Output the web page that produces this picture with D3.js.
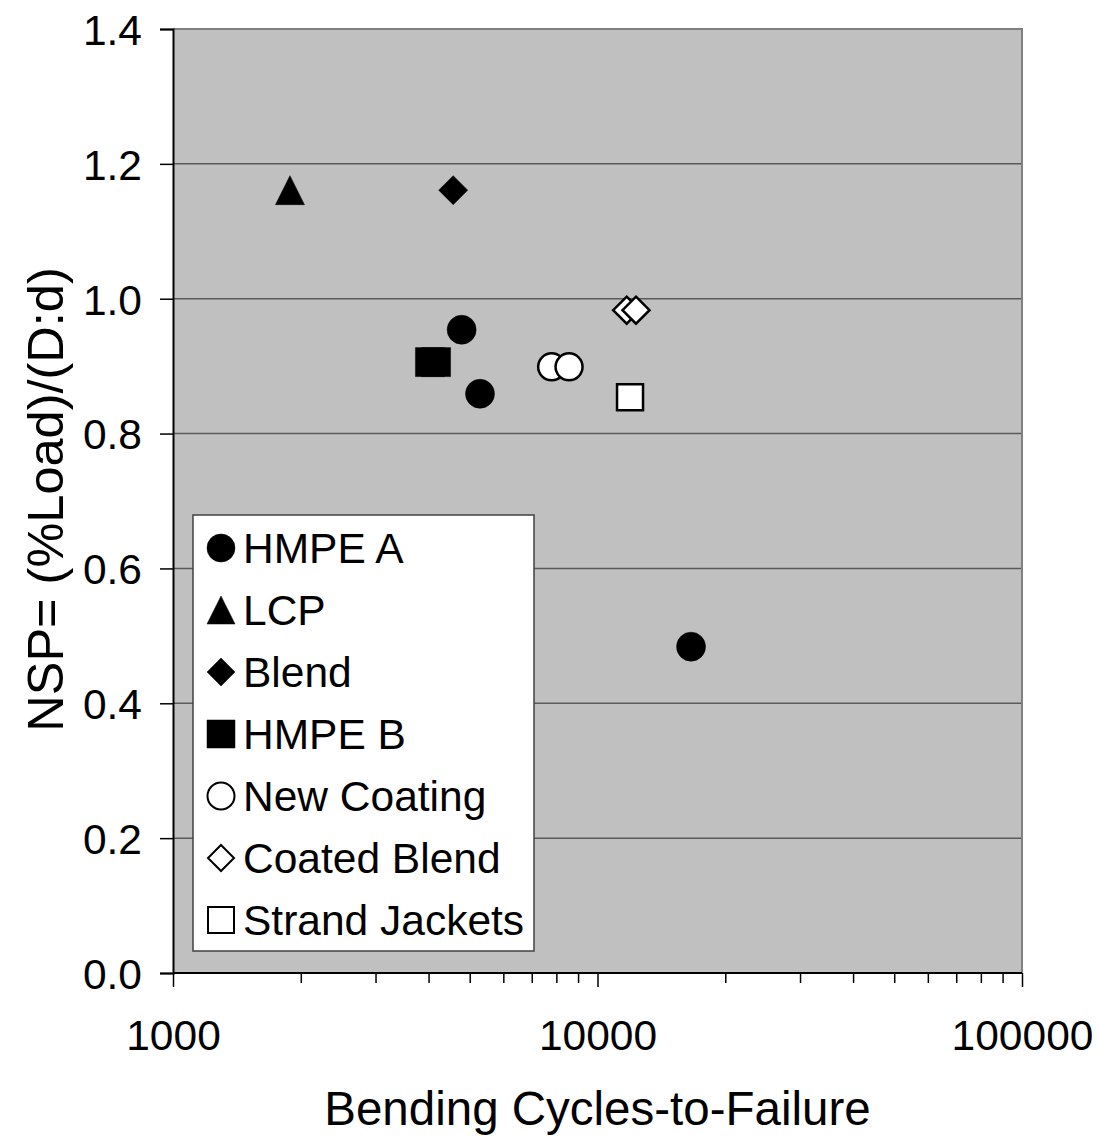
<!DOCTYPE html>
<html><head><meta charset="utf-8">
<script src="https://cdn.jsdelivr.net/npm/d3@7"></script>
<style>body{margin:0;background:#fff}svg{display:block}text{font-family:"Liberation Sans",Arial,sans-serif;fill:#000}</style>
</head><body><svg id="c" width="1099" height="1141"></svg>
<script>
const seriesNames = ["HMPE A","LCP","Blend","HMPE B","New Coating","Coated Blend","Strand Jackets"];
const seriesShapes = ["circle","triangle","diamond","square","circle","diamond","square"];
const seriesFilled = [true,true,true,true,false,false,false];
const hmpeA = [[4786,0.954],[5287,0.859],[16610,0.484]];
const lcp = [[1886,1.161]];
const blend = [[4571,1.161]];
const hmpeB = [[4030,0.906],[4166,0.906]];
const newCoating = [[7798,0.899],[8570,0.899]];
const coatedBlend = [[11714,0.983],[12322,0.983]];
const strandJackets = [[11930,0.854]];
const seriesData = [hmpeA,lcp,blend,hmpeB,newCoating,coatedBlend,strandJackets];
const xTickValues = [1000,10000,100000];
const yTickValues = [0,0.2,0.4,0.6,0.8,1.0,1.2,1.4];
const xTitle = "Bending Cycles-to-Failure";
const yTitle = "NSP= (%Load)/(D:d)";

const L=173,R=1022,T=29,B=973;
const svg=d3.select("#c");
const x=d3.scaleLog().domain([1000,100000]).range([L,R]);
const y=d3.scaleLinear().domain([0,1.4]).range([B,T]);

function shapePath(shape,s){
  const h=s/2;
  if(shape==="circle"){const p=d3.path();p.moveTo(h,0);p.arc(0,0,h,0,2*Math.PI);p.closePath();return p.toString();}
  if(shape==="square") return `M${-h},${-h}H${h}V${h}H${-h}Z`;
  if(shape==="diamond") return `M0,${-h}L${h},0L0,${h}L${-h},0Z`;
  if(shape==="triangle") return `M0,${-h}L${h},${h}L${-h},${h}Z`;
}

// plot background
svg.append("rect").attr("x",L).attr("y",T).attr("width",R-L).attr("height",B-T).attr("fill","#c0c0c0");
// gridlines
svg.append("g").selectAll("line").data(yTickValues.filter(v=>v>0&&v<1.4)).join("line")
  .attr("x1",L).attr("x2",R).attr("y1",d=>y(d)).attr("y2",d=>y(d))
  .attr("stroke","#5a5a5a").attr("stroke-width",1.5);
// top/right border
svg.append("path").attr("d",`M${L},${T}H${R}V${B}`).attr("fill","none").attr("stroke","#808080").attr("stroke-width",2);

// y axis
const yAxis=d3.axisLeft(y).tickValues(yTickValues).tickFormat(d3.format(".1f")).tickSize(13).tickPadding(18);
const gy=svg.append("g").attr("transform",`translate(${L},0)`).call(yAxis);
gy.select(".domain").attr("stroke","#000").attr("stroke-width",2);
gy.selectAll(".tick line").attr("stroke","#000").attr("stroke-width",1.5);
gy.selectAll("text").attr("font-size",42.5).attr("font-family","Liberation Sans, Arial, sans-serif").attr("dy","0.36em");

// x axis
const minorTicks=[];
for(let dec=1000;dec<100000;dec*=10){for(let k=2;k<=9;k++)minorTicks.push(dec*k);}
const gxm=svg.append("g").attr("transform",`translate(0,${B})`).call(d3.axisBottom(x).tickValues(minorTicks).tickSize(10).tickFormat(""));
gxm.select(".domain").remove();
gxm.selectAll(".tick line").attr("stroke","#000").attr("stroke-width",1.5);
const gx=svg.append("g").attr("transform",`translate(0,${B})`).call(d3.axisBottom(x).tickValues(xTickValues).tickSize(14).tickPadding(33).tickFormat(d3.format("d")));
gx.select(".domain").attr("stroke","#000").attr("stroke-width",2).attr("d",`M${L},0H${R}`);
gx.selectAll(".tick line").attr("stroke","#000").attr("stroke-width",1.5);
gx.selectAll("text").attr("font-size",42.5).attr("font-family","Liberation Sans, Arial, sans-serif").attr("dy","0.71em");

// titles
svg.append("text").attr("x",(L+R)/2).attr("y",1125).attr("text-anchor","middle").attr("font-size",47.5).text(xTitle);
svg.append("text").attr("transform",`translate(63,499.5) rotate(-90)`).attr("text-anchor","middle").attr("font-size",50.5).text(yTitle);

// points
seriesData.forEach((data,i)=>{
  const shape=seriesShapes[i], filled=seriesFilled[i];
  const size= shape==="square" ? (filled?29:26) : (filled?29:27);
  svg.append("g").selectAll("path").data(data).join("path")
    .attr("transform",d=>`translate(${x(d[0])},${y(d[1])})`)
    .attr("d",shapePath(shape,size))
    .attr("fill",filled?"#000":"#fff")
    .attr("stroke","#000").attr("stroke-width",filled?0.5:2.5).attr("stroke-linejoin","miter");
});

// legend
const lg=svg.append("g");
lg.append("rect").attr("x",193).attr("y",515).attr("width",341).attr("height",436).attr("fill","#fff").attr("stroke","#404040").attr("stroke-width",1.5);
const rowY=d3.scaleLinear().domain([0,6]).range([563,935]);
seriesNames.forEach((n,i)=>{
  const shape=seriesShapes[i], filled=seriesFilled[i];
  const size= filled?28:(shape==="circle"?27:26);
  lg.append("path").attr("transform",`translate(221,${rowY(i)-15})`).attr("d",shapePath(shape,size))
    .attr("fill",filled?"#000":"#fff").attr("stroke","#000").attr("stroke-width",filled?0.5:2);
  lg.append("text").attr("x",243).attr("y",rowY(i)).attr("font-size",42.5).text(n);
});
</script></body></html>
